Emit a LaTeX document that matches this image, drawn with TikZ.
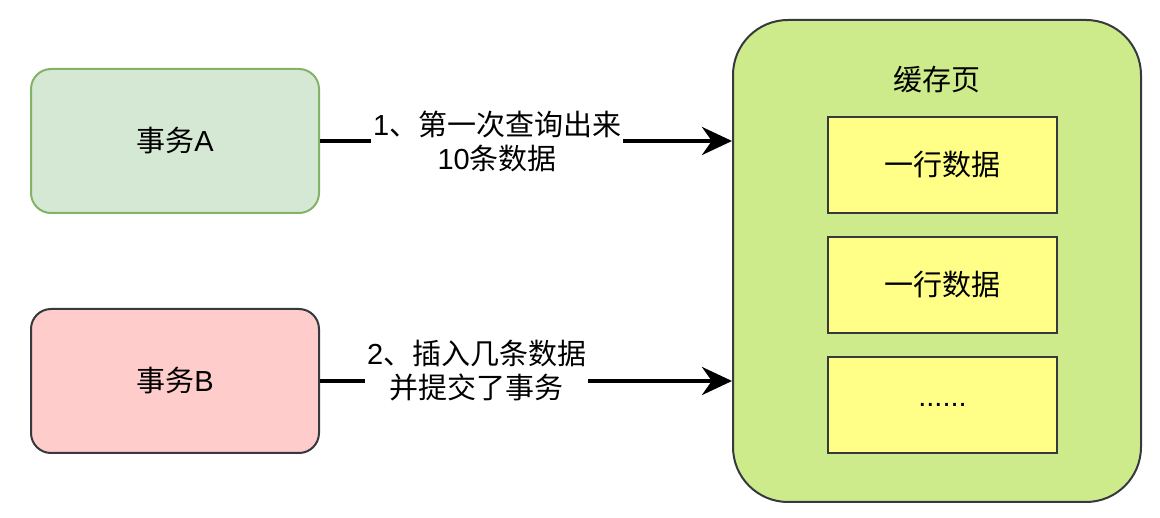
\documentclass[tikz,border=0pt]{standalone}
\usepackage{fontspec}
\setmainfont{Liberation Sans}
\newfontfamily\cjk{Noto Sans CJK SC}
\newcommand{\zh}[1]{{\cjk #1}}
\usetikzlibrary{arrows.meta}

\definecolor{afill}{HTML}{D5E8D4}
\definecolor{aline}{HTML}{82B366}
\definecolor{bfill}{HTML}{FFCCCC}
\definecolor{bline}{HTML}{36393D}
\definecolor{pagefill}{HTML}{CDEB8B}
\definecolor{darkline}{HTML}{36393D}
\definecolor{rowfill}{HTML}{FFFF88}

\begin{document}
\begin{tikzpicture}[x=1pt, y=-1pt,
    font=\fontsize{29}{34}\selectfont,
    task/.style={draw, line width=2pt, rounded corners=20pt, minimum width=288pt, minimum height=144pt},
    row/.style={draw=darkline, fill=rowfill, line width=2pt, minimum width=229pt, minimum height=96pt},
    flow/.style={line width=4pt, -{Stealth[length=30pt, width=28pt]}},
    lbl/.style={fill=white, inner sep=2pt, align=center}]
    \useasboundingbox (0,0) rectangle (1160,518);

    % Transactions
    \node[task, draw=aline, fill=afill] (taskA) at (175,141) {\zh{事务}A};
    \node[task, draw=bline, fill=bfill] (taskB) at (175,381) {\zh{事务}B};

    % Cache page with its rows
    \node[draw=darkline, fill=pagefill, line width=2pt, rounded corners=55pt,
          minimum width=408pt, minimum height=482pt] (page) at (937,261) {};
    \node (title) at (937,80) {\zh{缓存页}};
    \node[row] (row1) at (942.5,165) {\zh{一行数据}};
    \node[row] (row2) at (942.5,285) {\zh{一行数据}};
    \node[row] (row3) at (942.5,405) {......};

    % Arrows
    \draw[flow] (taskA) -- (taskA -| page.west)
        node[lbl, pos=0.43] {1\zh{、第一次查询出来}\\10\zh{条数据}};
    \draw[flow] (taskB) -- (taskB -| page.west)
        node[lbl, pos=0.38, yshift=10pt] {2\zh{、插入几条数据}\\\zh{并提交了事务}};
\end{tikzpicture}
\end{document}
